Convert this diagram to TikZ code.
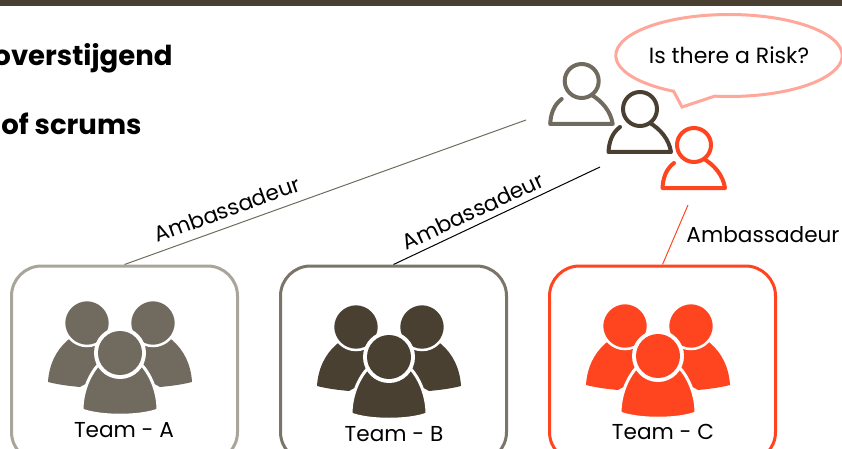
\documentclass[tikz,border=0pt]{standalone}
\usepackage{fontspec}
\setmainfont{Poppins}
\usetikzlibrary{shapes.callouts}
\definecolor{barcol}{HTML}{4A4032}
\definecolor{greycol}{HTML}{706B5E}
\definecolor{greyedge}{HTML}{A9A59B}
\definecolor{darkedge}{HTML}{7A7568}
\definecolor{redcol}{HTML}{FF451F}
\definecolor{bubblecol}{HTML}{FFA79A}
\tikzset{
    teambox/.style={draw, rounded corners=30, line width=3, minimum width=226, minimum height=196, fill=white},
    teamlabel/.style={font=\fontsize{21.6}{21.6}\selectfont, text=black},
    amblabel/.style={font=\fontsize{21.6}{21.6}\selectfont, text=black},
    titlelabel/.style={font=\fontsize{27.5}{27.5}\selectfont\bfseries, text=black, anchor=base east},
    bubble/.style={ellipse callout, draw=bubblecol, line width=3, fill=white, minimum width=221, minimum height=82, inner sep=0, callout pointer arc=22, font=\fontsize{22}{22}\selectfont},
    personicon/.pic={
        \draw[pic actions, line width=4, line cap=round, line join=round] (0,0) circle [radius=17];
        \draw[pic actions, line width=4, line cap=round, line join=round] (-20,18) .. controls (-28,24) and (-31,33) .. (-31.5,43) -- (31,43) .. controls (29,30) and (20,20) .. (10,14);
    },
    teamicon/.pic={
        \foreach \s in {-1,1} {
            \fill[pic actions] ({\s*52},-13) .. controls ({\s*64},-3) and ({\s*71},12) .. ({\s*72},29) .. controls ({\s*60},32) and ({\s*50},33) .. ({\s*40},34) -- ({\s*15},20) -- ({\s*33},-30) -- cycle;
            \filldraw[pic actions, draw=white, line width=2.5] ({\s*33},-30) circle [radius=23];
        }
        \filldraw[pic actions, draw=white, line width=3] (-20,10) .. controls (-30,20) and (-38,38) .. (-38,57) .. controls (-20,64) and (20,64) .. (38,57) .. controls (38,38) and (30,20) .. (20,10) -- cycle;
        \fill[white] (0,0) circle [radius=26];
        \fill[pic actions] (0,0) circle [radius=22];
    },
}
\begin{document}
\begin{tikzpicture}[x=1pt, y=-1pt]
    \useasboundingbox (0,0) rectangle (842,449);
    \clip (0,0) rectangle (842,449);

    \fill[barcol] (0,0) rectangle (842,6);

    \node[titlelabel] (titleA) at (176,66) {overstijgend};
    \node[titlelabel] (titleB) at (145,135) {of scrums};

    % team boxes
    \node[teambox, draw=greyedge] (teamA) at (124.5,364) {};
    \node[teambox, draw=darkedge] (teamB) at (393.5,364) {};
    \node[teambox, draw=redcol] (teamC) at (662.5,364) {};

    \pic[fill=greycol] at (120,353) {teamicon};
    \pic[fill=barcol] at (389,357) {teamicon};
    \pic[fill=redcol] at (658,356) {teamicon};

    \node[teamlabel] (labelA) at (124,430) {Team - A};
    \node[teamlabel] (labelB) at (394,434) {Team - B};
    \node[teamlabel] (labelC) at (663,432) {Team - C};

    % ambassadors
    \pic[draw=greycol] at (581.7,81) {personicon};
    \pic[draw=barcol] at (640,109) {personicon};
    \pic[draw=redcol] at (694,145) {personicon};

    \coordinate (ambA) at (526,120);
    \coordinate (ambB) at (600,167);
    \coordinate (ambC) at (688,205);

    \draw[greycol, line width=1] (teamA.north) -- (ambA);
    \draw[black, line width=1] (teamB.north) -- (ambB);
    \draw[redcol, line width=1] (teamC.north) -- (ambC);

    \node[amblabel, rotate=20] (textA) at (227,209) {Ambassadeur};
    \node[amblabel, rotate=25] (textB) at (473,211) {Ambassadeur};
    \node[amblabel] (textC) at (763,235) {Ambassadeur};

    \node[bubble, callout absolute pointer={(682,107)}] (risk) at (729,55.5) {Is there a Risk?};
\end{tikzpicture}
\end{document}
